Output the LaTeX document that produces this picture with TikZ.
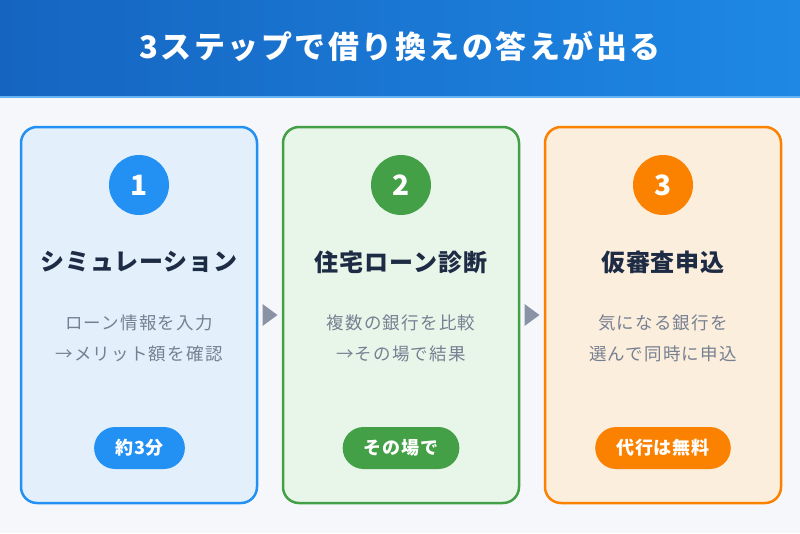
\documentclass[tikz,border=0pt]{standalone}
\usepackage{fontspec}
\setmainfont{Noto Sans CJK JP}
\usetikzlibrary{calc}
\definecolor{bg}{HTML}{F5F7FA}
\definecolor{hdrL}{HTML}{1565C0}
\definecolor{hdrR}{HTML}{1E88E5}
\definecolor{hdrLine}{HTML}{64B5F6}
\definecolor{cA}{HTML}{2391F3}
\definecolor{cAbg}{HTML}{E3F0FC}
\definecolor{cB}{HTML}{43A047}
\definecolor{cBbg}{HTML}{E8F5E9}
\definecolor{cC}{HTML}{FB8100}
\definecolor{cCbg}{HTML}{FBEEDC}
\definecolor{navy}{HTML}{1E2B44}
\definecolor{desc}{HTML}{778092}
\definecolor{arrowc}{HTML}{8A93A6}
\tikzset{
  card/.style={draw, line width=2.5pt, rounded corners=16pt, minimum width=236pt, minimum height=376pt, inner sep=0pt},
  num/.style={circle, minimum size=60pt, inner sep=0pt, text=white, font=\bfseries\fontsize{28}{32}\selectfont},
  ctitle/.style={text=navy, font=\bfseries\fontsize{24}{28}\selectfont\addfontfeatures{LetterSpace=4}, inner sep=0pt},
  cdesc/.style={text=desc, align=center, font=\fontsize{17.5}{31}\selectfont\addfontfeatures{LetterSpace=7}, inner sep=0pt},
  badge/.style={rounded corners=21pt, minimum height=42pt, inner xsep=21pt, inner ysep=0pt, text=white, font=\bfseries\fontsize{18}{22}\selectfont\addfontfeatures{LetterSpace=5}},
  tri/.style={fill=arrowc}
}
\begin{document}
\begin{tikzpicture}[x=1pt,y=-1pt]
  \path[use as bounding box, fill=bg] (0,0) rectangle (800,533);
  \shade[left color=hdrL, right color=hdrR] (0,0) rectangle (800,96);
  \fill[hdrLine] (0,96) rectangle (800,97.5);
  \node[text=white, font=\bfseries\fontsize{31}{36}\selectfont\addfontfeatures{LetterSpace=8}] (title) at (400,47) {3ステップで借り換えの答えが出る};

  \node[card, draw=cA, fill=cAbg] (card1) at (139,315) {};
  \node[card, draw=cB, fill=cBbg] (card2) at (401,315) {};
  \node[card, draw=cC, fill=cCbg] (card3) at (663,315) {};

  \node[num, fill=cA] (n1) at (139,185) {1};
  \node[num, fill=cB] (n2) at (401,185) {2};
  \node[num, fill=cC] (n3) at (663,185) {3};

  \node[ctitle] (t1) at (139,262) {シミュレーション};
  \node[ctitle] (t2) at (401,262) {住宅ローン診断};
  \node[ctitle] (t3) at (663,262) {仮審査申込};

  \node[cdesc] (d1) at (139,338) {ローン情報を入力\\→メリット額を確認};
  \node[cdesc] (d2) at (401,338) {複数の銀行を比較\\→その場で結果};
  \node[cdesc] (d3) at (663,338) {気になる銀行を\\選んで同時に申込};

  \node[badge, fill=cA] (b1) at (139.5,448) {約3分};
  \node[badge, fill=cB] (b2) at (401,448) {その場で};
  \node[badge, fill=cC] (b3) at (663,448) {代行は無料};

  \coordinate (m1) at ($(card1.east)!0.5!(card2.west)$);
  \coordinate (m2) at ($(card2.east)!0.5!(card3.west)$);
  \fill[tri] ([xshift=-7.5pt]m1) ++(0,-11) -- ++(15,11) -- ++(-15,11) -- cycle;
  \fill[tri] ([xshift=-7.5pt]m2) ++(0,-11) -- ++(15,11) -- ++(-15,11) -- cycle;
\end{tikzpicture}
\end{document}
